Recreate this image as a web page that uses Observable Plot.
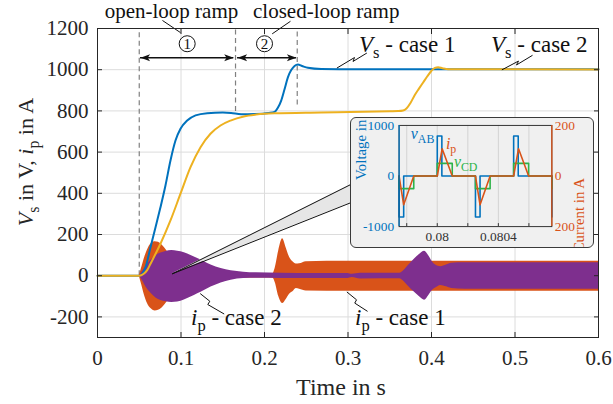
<!DOCTYPE html>
<html><head><meta charset="utf-8">
<script src="https://cdn.jsdelivr.net/npm/d3@7"></script>
<script src="https://cdn.jsdelivr.net/npm/@observablehq/plot@0.6"></script>
<style>
body{margin:0;background:#fff;}
#wrap{position:relative;width:613px;height:404px;font-family:'Liberation Serif',serif;}
#wrap svg text{font-family:'Liberation Serif',serif !important;}
#inset{position:absolute;left:350px;top:117px;width:244px;height:131px;box-sizing:border-box;border:1.2px solid #3a3a3a;border-radius:6px;background:#f0f0f0;overflow:hidden;}
#inset svg{position:absolute;left:-1px;top:-1px;}
</style></head><body><div id="wrap"><div id="inset"></div></div>
<script>
// ---------------- data: main chart ----------------
const xTicks = [0, 0.1, 0.2, 0.3, 0.4, 0.5, 0.6];
const yTicks = [-200, 0, 200, 400, 600, 800, 1000, 1200];

// V_s, case 1 (blue)
const case1Time = [0, 0.05, 0.0535, 0.0575, 0.0635, 0.0695, 0.0754, 0.0814, 0.0874, 0.0934, 0.0994, 0.1074, 0.1174, 0.1314, 0.15, 0.16, 0.172, 0.188, 0.205, 0.212, 0.216, 0.22, 0.224, 0.228, 0.232, 0.236, 0.24, 0.245, 0.252, 0.268, 0.3, 0.6];
const case1Vs   = [0, 0, 8, 41, 138, 235, 332, 438, 559, 656, 713, 753, 778, 789, 792, 790, 784, 785, 790, 795, 815, 850, 905, 963, 998, 1018, 1025, 1018, 1009, 1003, 1002, 1002];
// V_s, case 2 (yellow)
const case2Time = [0, 0.05, 0.055, 0.0595, 0.0635, 0.0754, 0.0874, 0.0994, 0.1114, 0.1234, 0.1353, 0.1473, 0.1593, 0.1752, 0.19, 0.212, 0.268, 0.35, 0.36, 0.366, 0.37, 0.375, 0.38, 0.385, 0.39, 0.395, 0.4, 0.404, 0.408, 0.413, 0.42, 0.6];
const case2Vs   = [0, 0, 8, 27, 58, 155, 268, 398, 527, 624, 689, 729, 753, 773, 782, 788, 792, 798, 799, 802, 812, 840, 877, 908, 938, 968, 995, 1009, 1012, 1007, 1002, 1001];

// i_p, case 1 (orange) envelope
const ip1Time  = [0.05, 0.053, 0.057, 0.061, 0.065, 0.069, 0.073, 0.077, 0.081, 0.085, 0.09, 0.1, 0.12, 0.15, 0.2, 0.21, 0.213, 0.217, 0.2217, 0.226, 0.23, 0.234, 0.238, 0.242, 0.25, 0.3, 0.6];
const ip1Upper = [0, 40, 95, 135, 157, 165, 162, 150, 132, 110, 85, 55, 30, 14, 9, 9, 40, 120, 179, 135, 90, 68, 57, 58, 68, 70, 70];
const ip1Lower = [0, -45, -105, -145, -163, -171, -168, -158, -140, -118, -92, -60, -32, -16, -11, -11, -35, -100, -135, -115, -90, -78, -62, -66, -74, -76, -76];
// i_p, case 2 (purple) envelope
const ip2Time  = [0.05, 0.054, 0.058, 0.064, 0.07, 0.076, 0.082, 0.089, 0.096, 0.104, 0.112, 0.12, 0.128, 0.136, 0.148, 0.16, 0.175, 0.19, 0.22, 0.26, 0.3, 0.305, 0.315, 0.362, 0.367, 0.372, 0.38, 0.386, 0.3917, 0.397, 0.401, 0.405, 0.411, 0.418, 0.424, 0.44, 0.6];
const ip2Upper = [0, 20, 45, 75, 98, 110, 118, 122, 119, 112, 98, 83, 68, 52, 35, 24, 17, 14, 12, 11, 11, 7, 12, 12, 25, 48, 82, 104, 119, 95, 68, 52, 44, 52, 61, 63, 63];
const ip2Lower = [0, -25, -55, -85, -108, -120, -127, -130, -128, -118, -104, -88, -72, -55, -35, -22, -14, -12, -13, -14, -14, -9, -16, -15, -28, -50, -82, -104, -119, -95, -72, -60, -47, -54, -62, -66, -66];

// annotations (data coordinates)
const dashTime = [0.05, 0.1653, 0.2392];
const dashEnd  = [0, 797, 829];
const arrowStart = [0.0515, 0.1677];
const arrowEnd   = [0.1632, 0.2383];
const arrowLevel = 1058;
const phaseNumber = ["1", "2"];
const phaseNumberTime = [0.1074, 0.2];
const phaseNumberLevel = 1126;
const phaseName = ["open-loop ramp", "closed-loop ramp"];
const phaseNameTime = [0.0886, 0.2739];
const phaseNameLevel = 1282;
const phaseLeader = [[0.0994, 1180, 0.0778, 1239], [0.2092, 1174, 0.2311, 1235]];
const zoomApex = [0.0895, 9];
const zoomEnd = [0.305, 357, 446];
const seriesLabel = [
  {sym: "V", sub: "s", rest: " - case 1", t: 0.3138, v: 1085},
  {sym: "V", sub: "s", rest: " - case 2", t: 0.4719, v: 1082},
  {sym: "i", sub: "p", rest: " - case 2", t: 0.1126, v: -242},
  {sym: "i", sub: "p", rest: " - case 1", t: 0.309, v: -242}
];
const seriesZigzag = [
  [[0.2871, 1009], [0.3078, 1059], [0.306, 1040], [0.3222, 1080]],
  [[0.4847, 1000], [0.5042, 1042], [0.5018, 1023], [0.5206, 1069]],
  [[0.1234, -88], [0.1345, -124], [0.1321, -140], [0.1513, -185]],
  [[0.299, -80], [0.3102, -117], [0.3081, -133], [0.323, -172]]
];

// ---------------- data: inset ----------------
const insetDomain = [0.07975, 0.08075];
const insetGrid = [0.0798, 0.08, 0.0802, 0.0804, 0.0806];
const insetTimeLabels = [0.08, 0.0804];
const voltTicks = [-1000, 0, 1000];
const currentTicks = [-200, 0, 200];
const vabTime  = [0.07975, 0.07975, 0.07978, 0.08, 0.08003, 0.08025, 0.08028, 0.0805, 0.08053, 0.08075, 0.08075];
const vabValue = [0, -810, 0, 790, 0, -810, 0, 790, 0, 0, -810];
const vcdTime  = [0.07975, 0.07975, 0.079846, 0.08, 0.080098, 0.08025, 0.080346, 0.0805, 0.080598, 0.08075, 0.08075];
const vcdValue = [0, -250, 0, 250, 0, -250, 0, 250, 0, 0, -250];
const ipTime   = [0.07975, 0.07978, 0.079846, 0.08, 0.080032, 0.080098, 0.08025, 0.08028, 0.080346, 0.0805, 0.080532, 0.080598, 0.08075];
const ipValue  = [0, -114, 0, 0, 108, 0, 0, -114, 0, 0, 108, 0, 0];
const insetLabels = [
  {sym: "v", sub: "AB", t: 0.07983, v: 719, color: "blue"},
  {sym: "i", sub: "p", t: 0.08006, v: 530, color: "orange"},
  {sym: "v", sub: "CD", t: 0.080112, v: 168, color: "green"}
];

// ---------------- styling ----------------
const C = {blue: "#0072BD", yellow: "#EDB120", orange: "#D95319", purple: "#7E2F8E", green: "#2DB34A"};
const FONT = "'Liberation Serif', serif";
const voltLimit = voltTicks[2], currentLimit = currentTicks[2];
const currentToVolt = voltLimit / currentLimit;

const case1 = case1Time.map((t, i) => ({t, v: case1Vs[i]}));
const case2 = case2Time.map((t, i) => ({t, v: case2Vs[i]}));
const env1 = ip1Time.map((t, i) => ({t, hi: ip1Upper[i], lo: ip1Lower[i]}));
const env2 = ip2Time.map((t, i) => ({t, hi: ip2Upper[i], lo: ip2Lower[i]}));
const dashes = dashTime.map((t, i) => ({t, lo: dashEnd[i], hi: 1200}));
const arrows = arrowStart.map((t, i) => ({t0: t, t1: arrowEnd[i], v: arrowLevel}));
const heads = arrows.flatMap(a => [{t: a.t0, v: a.v, dir: 180}, {t: a.t1, v: a.v, dir: 0}]);
const circles = phaseNumber.map((n, i) => ({n, t: phaseNumberTime[i], v: phaseNumberLevel}));
const names = phaseName.map((n, i) => ({n, t: phaseNameTime[i], v: phaseNameLevel}));
const leaders = phaseLeader.map(([a, b, c, d]) => ({x1: a, y1: b, x2: c, y2: d}));
const wedge = [{t: zoomApex[0], lo: zoomApex[1], hi: zoomApex[1]}, {t: zoomEnd[0], lo: zoomEnd[1], hi: zoomEnd[2]}];
const wedgeEdges = [{x1: zoomApex[0], y1: zoomApex[1], x2: zoomEnd[0], y2: zoomEnd[1]}, {x1: zoomApex[0], y1: zoomApex[1], x2: zoomEnd[0], y2: zoomEnd[2]}];
const zig = seriesZigzag.flatMap((pts, k) => pts.map(([t, v]) => ({t, v, k})));

const arrowHead = {draw(ctx, size) {
  const r = Math.sqrt(size / Math.PI), L = 2.4 * r, w = 0.85 * r;
  ctx.moveTo(0, 0); ctx.lineTo(-L, -w); ctx.lineTo(-0.75 * L, 0); ctx.lineTo(-L, w); ctx.closePath();
}};

const main = Plot.plot({
  width: 613, height: 404,
  marginLeft: 97, marginRight: 15, marginTop: 28, marginBottom: 67,
  x: {domain: [0, 0.6]},
  y: {domain: [-300, 1200]},
  style: {fontFamily: FONT, fontSize: "21px", color: "#262626", background: "white", overflow: "visible"},
  marks: [
    Plot.gridX(xTicks, {stroke: "#dcdcdc", strokeOpacity: 1}),
    Plot.gridY(yTicks, {stroke: "#dcdcdc", strokeOpacity: 1}),
    Plot.ruleX(dashes, {x: "t", y1: "lo", y2: "hi", stroke: "#808080", strokeWidth: 1.2, strokeDasharray: "5,3.5"}),
    Plot.areaY(env1, {x: "t", y1: "lo", y2: "hi", fill: C.orange, curve: "monotone-x"}),
    Plot.areaY(env2, {x: "t", y1: "lo", y2: "hi", fill: C.purple, curve: "monotone-x"}),
    Plot.areaY(wedge, {x: "t", y1: "lo", y2: "hi", fill: "#e6e6e6"}),
    Plot.link(wedgeEdges, {x1: "x1", y1: "y1", x2: "x2", y2: "y2", stroke: "#111", strokeWidth: 1}),
    Plot.line(case1, {x: "t", y: "v", stroke: C.blue, strokeWidth: 2, curve: "monotone-x"}),
    Plot.line(case2, {x: "t", y: "v", stroke: C.yellow, strokeWidth: 2, curve: "monotone-x"}),
    Plot.ruleY(arrows, {y: "v", x1: "t0", x2: "t1", stroke: "#111", strokeWidth: 1.3}),
    Plot.dot(heads, {x: "t", y: "v", rotate: "dir", symbol: arrowHead, r: 4, fill: "#111"}),
    Plot.link(leaders, {x1: "x1", y1: "y1", x2: "x2", y2: "y2", stroke: "#111", strokeWidth: 1}),
    Plot.dot(circles, {x: "t", y: "v", r: 8, stroke: "#111", fill: "white", strokeWidth: 1}),
    Plot.text(circles, {x: "t", y: "v", text: "n", fontSize: 15, fill: "#111", fontFamily: FONT}),
    Plot.text(names, {x: "t", y: "v", text: "n", fontSize: 21, fill: "#111", fontFamily: FONT}),
    Plot.line(zig, {x: "t", y: "v", z: "k", stroke: "#111", strokeWidth: 1}),
    Plot.frame({stroke: "#262626", strokeWidth: 1}),
    Plot.axisX({ticks: xTicks, tickSize: 0, tickPadding: 13, tickFormat: d => String(d), label: null, fontFamily: FONT, fontSize: 21}),
    Plot.axisY({ticks: yTicks, tickSize: 0, tickPadding: 9, tickFormat: d => String(d), label: null, fontFamily: FONT, fontSize: 21}),
    Plot.axisX({anchor: "bottom", ticks: xTicks, tickSize: -5, tickFormat: () => "", label: null}),
    Plot.axisX({anchor: "top", ticks: xTicks, tickSize: -5, tickFormat: () => "", label: null}),
    Plot.axisY({anchor: "left", ticks: yTicks, tickSize: -5, tickFormat: () => "", label: null}),
    Plot.axisY({anchor: "right", ticks: yTicks, tickSize: -5, tickFormat: () => "", label: null})
  ]
});
document.getElementById("wrap").insertBefore(main, document.getElementById("inset"));

function rich(svg, x, y, parts, {size, fill = "#111", rotate = 0, anchor = "start", subShift = 0.26, subScale = 0.72} = {}) {
  const t = d3.select(svg).append("text")
    .attr("transform", `translate(${x},${y}) rotate(${rotate})`)
    .attr("text-anchor", anchor)
    .attr("font-family", FONT)
    .style("font-family", FONT)
    .attr("font-size", size).attr("fill", fill);
  let shifted = 0;
  for (const p of parts) {
    const ts = t.append("tspan").text(p.text);
    if (p.italic) ts.attr("font-style", "italic");
    const want = p.sub ? subShift * size : 0;
    if (want !== shifted) { ts.attr("dy", want - shifted); shifted = want; }
    if (p.sub) ts.attr("font-size", size * subScale);
  }
  return t;
}

const sx = main.scale("x"), sy = main.scale("y");
for (const L of seriesLabel) {
  rich(main, sx.apply(L.t), sy.apply(L.v), [{text: L.sym, italic: true}, {text: L.sub, sub: true}, {text: L.rest}], {size: 23});
}
rich(main, 33, 162, [{text: "V", italic: true}, {text: "s", sub: true}, {text: " in V, "}, {text: "i", italic: true}, {text: "p", sub: true}, {text: " in A"}], {size: 22, rotate: -90, anchor: "middle", fill: "#262626"});
rich(main, 341, 395, [{text: "Time in s"}], {size: 24, anchor: "middle", fill: "#262626"});

// ---------------- inset ----------------
const vab = vabTime.map((t, i) => ({t, v: vabValue[i]}));
const vcd = vcdTime.map((t, i) => ({t, v: vcdValue[i]}));
const ip = ipTime.map((t, i) => ({t, v: ipValue[i] * currentToVolt}));

const inset = Plot.plot({
  width: 244, height: 131,
  marginLeft: 49, marginRight: 41, marginTop: 8, marginBottom: 21,
  x: {domain: insetDomain},
  y: {domain: [-voltLimit, voltLimit]},
  style: {fontFamily: FONT, fontSize: "13px", color: "#333", background: "transparent", overflow: "visible"},
  marks: [
    Plot.gridX(insetGrid, {stroke: "#d2d2d2", strokeOpacity: 1}),
    Plot.line(vab, {x: "t", y: "v", stroke: C.blue, strokeWidth: 1.6, curve: "step-after"}),
    Plot.line(vcd, {x: "t", y: "v", stroke: C.green, strokeWidth: 1.6, curve: "step-after"}),
    Plot.line(ip, {x: "t", y: "v", stroke: C.orange, strokeWidth: 1.6}),
    Plot.frame({stroke: "#333", strokeWidth: 1}),
    Plot.ruleX([insetDomain[0]], {stroke: C.blue, strokeWidth: 1.3}),
    Plot.ruleX([insetDomain[1]], {stroke: C.orange, strokeWidth: 1.3}),
    Plot.axisX({ticks: insetTimeLabels, tickSize: 0, tickPadding: 5, tickFormat: d => String(+d.toFixed(4)), label: null, fontSize: 13.5, fontFamily: FONT}),
    Plot.axisX({ticks: insetGrid, tickSize: -3, tickFormat: () => "", label: null}),
    Plot.axisY({anchor: "left", ticks: voltTicks, tickSize: 0, tickPadding: 5, tickFormat: d => String(d), label: null, color: C.blue, fontSize: 13.5, fontFamily: FONT}),
    Plot.axisY({anchor: "right", ticks: currentTicks.map(c => c * currentToVolt), tickSize: 0, tickPadding: 3, tickFormat: d => String(Math.abs(d / currentToVolt)), label: null, color: C.orange, fontSize: 13.5, fontFamily: FONT}),
    Plot.text(["Voltage in V"], {frameAnchor: "left", dx: -38, dy: 4, rotate: -90, fill: C.blue, fontSize: 15, fontFamily: FONT}),
    Plot.text(["Current in A"], {frameAnchor: "right", dx: 28, dy: 2, rotate: -90, fill: C.orange, fontSize: 15, fontFamily: FONT})
  ]
});
document.getElementById("inset").appendChild(inset);
const ix = inset.scale("x"), iy = inset.scale("y");
for (const L of insetLabels) {
  rich(inset, ix.apply(L.t), iy.apply(L.v), [{text: L.sym, italic: true}, {text: L.sub, sub: true}], {size: 16, fill: C[L.color], subShift: 0.25, subScale: 0.75});
}
// make sure every text (including axis tick labels) uses the serif face
for (const svg of [main, inset]) {
  d3.select(svg).selectAll("text, g").attr("font-family", FONT).style("font-family", FONT);
}
</script></body></html>
